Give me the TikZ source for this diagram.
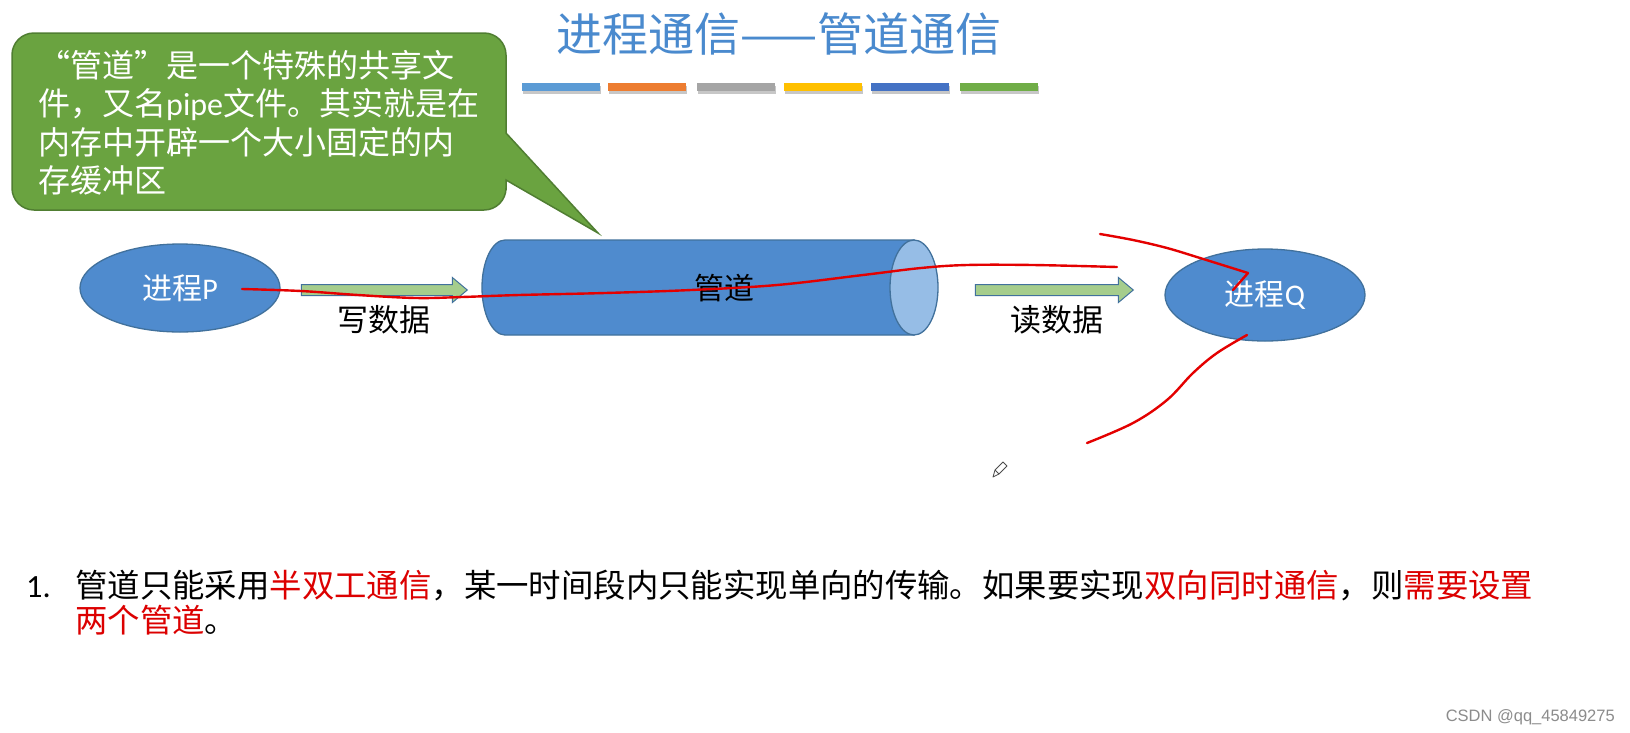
\documentclass[tikz,border=0pt]{standalone}
\usepackage{fontspec}
\setmainfont{Noto Sans CJK SC}
\newfontfamily\lat{Carlito}
\newfontfamily\wmfont{Liberation Sans}
\usetikzlibrary{shapes.geometric,shapes.arrows}
\definecolor{titleblue}{RGB}{74,138,206}
\definecolor{procfill}{RGB}{79,139,206}
\definecolor{procline}{RGB}{65,113,156}
\definecolor{capfill}{RGB}{150,189,230}
\definecolor{calloutfill}{RGB}{106,163,64}
\definecolor{calloutline}{RGB}{80,126,50}
\definecolor{arrowfill}{RGB}{165,205,140}
\definecolor{hl}{RGB}{220,0,0}
\definecolor{inkred}{RGB}{228,0,0}
\definecolor{bA}{RGB}{91,155,213}
\definecolor{bB}{RGB}{237,125,49}
\definecolor{bC}{RGB}{165,165,165}
\definecolor{bD}{RGB}{255,192,0}
\definecolor{bE}{RGB}{68,114,196}
\definecolor{bF}{RGB}{112,173,71}
\tikzset{
  proc/.style={ellipse, draw=procline, fill=procfill, line width=1.3pt,
    minimum width=200pt, minimum height=88pt, inner sep=0pt, text=white,
    font=\fontsize{30}{32}\selectfont},
  ctext/.style={anchor=base west, inner sep=0pt, text=white,
    font=\fontsize{32}{38}\selectfont},
  lbl/.style={inner sep=0pt, text=black, font=\fontsize{30}{32}\selectfont},
  btext/.style={anchor=base west, inner sep=0pt, text=black,
    font=\fontsize{32.4}{36}\selectfont},
  blockarrow/.style={single arrow, draw=procline, fill=arrowfill, line width=1pt,
    inner xsep=0pt, inner ysep=5pt, single arrow head extend=7pt,
    single arrow tip angle=80, single arrow head indent=0pt},
  ink/.style={draw=inkred, line width=2.4pt, line cap=round, line join=round},
}
\begin{document}
\begin{tikzpicture}[x=1pt,y=-1pt]
\useasboundingbox (0,0) rectangle (1630,732);
\fill[white] (0,0) rectangle (1630,732);

% title
\node[anchor=base, inner sep=0pt, text=titleblue, font=\fontsize{46}{50}\selectfont] (title) at (779,51) {进程通信——管道通信};

% colour bars
\foreach \x/\c in {522/bA,608/bB,697/bC,784/bD,871/bE,960/bF}{
  \fill[black!22] (\x+1,86) rectangle (\x+79,94);
  \fill[\c] (\x,83) rectangle (\x+78,91);
}

% callout
\draw[calloutline, fill=calloutfill, line width=1.5pt]
  (12,120) [rounded corners=22pt] -- (12,33) -- (506,33) -- (506,110)
  [sharp corners] -- (506,133) -- (598,233) -- (506,180) -- (506,190)
  [rounded corners=22pt] -- (506,210) -- (12,210) -- cycle;
\node[ctext] (c1) at (38,77) {\makebox[1em][r]{“}管道\makebox[1em][l]{”}是一个特殊的共享文};
\node[ctext] (c2) at (38,115.5) {件，又名{\lat pipe}文件。其实就是在};
\node[ctext] (c3) at (38,154) {内存中开辟一个大小固定的内};
\node[ctext] (c4) at (38,192.5) {存缓冲区};

% pipe (cylinder)
\draw[procline, fill=procfill, line width=1.3pt]
  (505,240) -- (914,240) -- (914,335) -- (505,335)
  arc[start angle=90, end angle=270, x radius=23, y radius=47.5] -- cycle;
\draw[procline, fill=capfill, line width=1.3pt] (914,287.5) ellipse[x radius=24, y radius=47.5];
\node[lbl] (pipe) at (724,288) {管道};

% processes
\node[proc] (P) at (180,288) {进程{\lat P}};
\node[proc, minimum height=92pt] (Q) at (1265,295) {进程{\lat Q}};

% block arrows
\node[blockarrow, minimum height=166pt] (w) at (381,290) {};
\node[blockarrow, minimum height=158pt] (r) at (1051,290) {};
\node[lbl, font=\fontsize{31}{33}\selectfont] (wl) at (384,320) {写数据};
\node[lbl, font=\fontsize{31}{33}\selectfont] (rl) at (1057,320) {读数据};

% red hand-drawn strokes
\draw[ink] plot[smooth, tension=0.6] coordinates {(242,289) (301,291) (358,295) (416,298) (462,297) (519,295) (605,293) (691,290) (777,285) (863,275) (921,268) (967,265) (1033,265) (1117,267)};
\draw[ink] plot[smooth, tension=0.6] coordinates {(1100,234) (1133,240) (1167,248) (1200,258) (1248,273)} -- (1233,290);
\draw[ink] plot[smooth, tension=0.6] coordinates {(1247,335) (1217,353) (1193,373) (1167,400) (1133,423) (1087,443)};

% pencil cursor
\draw[black!70, line width=0.8pt, line join=round] (993,477) -- (995,470) -- (1003,462) -- (1007,466) -- (999,474) -- cycle;
\draw[black!70, line width=0.8pt] (995,470) -- (999,474);

% bottom text
\node[btext] (num) at (26,597) {{\lat 1.}};
\node[btext] (l1) at (75,597) {管道只能采用\textcolor{hl}{半双工通信}，某一时间段内只能实现单向的传输。如果要实现\textcolor{hl}{双向同时通信}，则\textcolor{hl}{需要设置}};
\node[btext] (l2) at (75,632) {\textcolor{hl}{两个管道}。};

% watermark
\node[anchor=base east, inner sep=0pt, text=black!45, font=\wmfont\fontsize{16.5}{18}\selectfont] (wm) at (1615,721) {CSDN @qq\_45849275};
\end{tikzpicture}
\end{document}
